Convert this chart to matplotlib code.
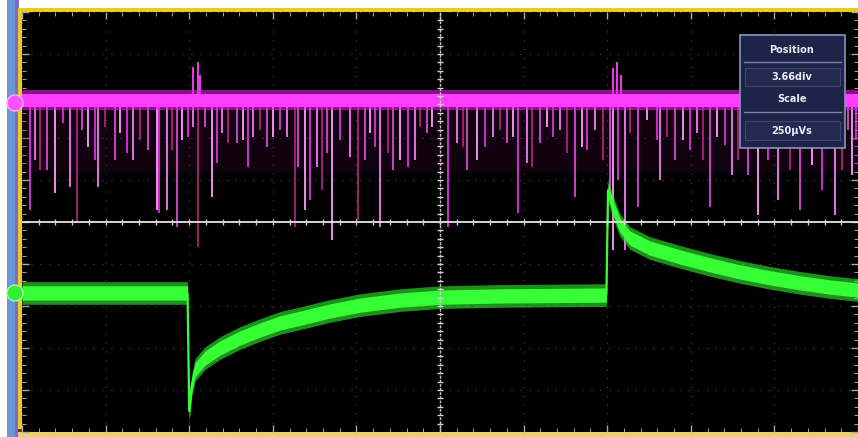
import matplotlib.pyplot as plt
from matplotlib.patches import Rectangle, Circle
from matplotlib.ticker import MultipleLocator
import numpy as np

# time in divisions (10 div across), level in divisions (0 = screen centre)
green_t = [0.00, 1.98, 2.00, 2.03, 2.07, 2.19, 2.37, 2.61, 2.85, 3.09, 3.33, 3.68,
           4.04, 4.52, 5.00, 5.72, 6.99, 7.01, 7.06, 7.15, 7.27, 7.51, 7.87, 8.23,
           8.59, 8.95, 9.31, 9.67, 10.00]
green_v = [-1.69, -1.69, -4.50, -3.90, -3.52, -3.24, -3.00, -2.76, -2.57, -2.40, -2.29, -2.12,
           -1.98, -1.86, -1.79, -1.76, -1.74, 0.76, 0.40, -0.07, -0.38, -0.62, -0.83, -1.02,
           -1.19, -1.33, -1.45, -1.55, -1.62]

magenta_level = 2.90

# downward glitches on the magenta channel: time, lowest level
spike_t = [0.10, 0.16, 0.22, 0.30, 0.39, 0.49, 0.57, 0.66, 0.72, 0.79, 0.87, 0.91,
           0.99, 1.11, 1.17, 1.26, 1.33, 1.41, 1.51, 1.61, 1.64, 1.73, 1.79, 1.85,
           1.91, 1.99, 2.05, 2.11, 2.19, 2.27, 2.33, 2.39, 2.46, 2.57, 2.64, 2.70,
           2.76, 2.85, 2.93, 3.00, 3.09, 3.17, 3.27, 3.30, 3.39, 3.44, 3.53, 3.59,
           3.65, 3.71, 3.80, 3.92, 4.02, 4.10, 4.16, 4.22, 4.28, 4.38, 4.44, 4.52,
           4.62, 4.70, 4.76, 4.84, 4.90, 5.10, 5.20, 5.28, 5.32, 5.44, 5.54, 5.63,
           5.72, 5.80, 5.87, 5.93, 6.04, 6.10, 6.20, 6.28, 6.35, 6.44, 6.52, 6.61,
           6.70, 6.76, 6.85, 6.95, 7.03, 7.07, 7.13, 7.21, 7.27, 7.37, 7.48, 7.60,
           7.63, 7.72, 7.81, 7.91, 7.99, 8.07, 8.15, 8.23, 8.31, 8.41, 8.49, 8.56,
           8.68, 8.80, 8.92, 9.04, 9.19, 9.31, 9.45, 9.57, 9.72, 9.81, 9.88, 9.93,
           9.98]
spike_low = [0.29, 1.48, 1.24, 1.24, 0.69, 2.36, 0.83, -0.02, 2.19, 1.79, 1.48, 0.83,
             2.26, 1.48, 2.12, 1.64, 1.48, 1.95, 1.71, 0.29, 0.21, 0.29, 1.71, -0.12,
             1.95, 2.02, 2.26, -0.60, 2.26, 0.60, 1.40, 2.12, 1.88, 1.88, 1.95, 1.31,
             2.02, 2.19, 1.79, 2.02, 2.19, 2.02, -0.12, 1.31, 0.29, 0.52, 1.31, 0.76,
             1.64, -0.43, 1.95, 1.55, 0.05, 1.48, 2.12, 1.79, -0.12, 1.64, 1.24, 1.48,
             1.31, 1.48, 2.26, 2.12, 2.26, -0.12, 1.88, 1.79, 1.24, 1.48, 1.79, 2.02,
             2.19, 1.88, 2.02, 0.21, 1.40, 1.31, 1.88, 2.26, 2.02, 2.19, 1.64, 0.60,
             1.79, 1.71, 2.19, 1.48, 0.76, -0.67, 1.00, -0.67, 2.12, 0.36, 2.43, 1.95,
             1.00, 2.02, 1.48, 1.95, 1.71, 2.12, 1.48, 0.36, 2.02, 1.83, 1.12, 1.48,
             1.12, 0.17, 1.48, 0.52, 1.24, 0.29, 1.36, 0.76, 0.17, 1.24, 2.19, 1.12,
             1.95]

# upward bursts on the magenta channel
burst_t = [2.05, 2.10, 2.13, 7.07, 7.12, 7.16]
burst_high = [3.69, 3.81, 3.50, 3.67, 3.81, 3.50]

panel_lines = ['Position', '3.66div', 'Scale', '250\u00b5Vs']

W, H = 858, 437
fig = plt.figure(figsize=(W / 100, H / 100), dpi=100)
fig.patch.set_facecolor('white')

# frame around the screen, in pixel units
bg = fig.add_axes([0, 0, 1, 1], zorder=0)
bg.set_xlim(0, W)
bg.set_ylim(H, 0)
bg.axis('off')
bg.add_patch(Rectangle((7, 0), 9, H, color='#6a95d6', lw=0))
bg.add_patch(Rectangle((15, 0), 4, H, color='#8266cc', lw=0))
bg.add_patch(Rectangle((18, 8), 4, H, color='#e8cc20', lw=0))
bg.add_patch(Rectangle((18, 8), W, 4, color='#e8cc20', lw=0))
bg.add_patch(Rectangle((22, 12), W, 3, color='#2a1850', lw=0))
bg.add_patch(Rectangle((18, 429), W, 3, color='#5a3a10', lw=0))
bg.add_patch(Rectangle((18, 432), W, 5, color='#ead070', lw=0))

# scope screen
ax = fig.add_axes([22 / W, 5 / H, 836 / W, 420 / H], zorder=1)
ax.set_facecolor('black')
ax.set_xlim(0, 10)
ax.set_ylim(-5, 5)
for s in ax.spines.values():
    s.set_visible(False)
ax.xaxis.set_major_locator(MultipleLocator(1))
ax.yaxis.set_major_locator(MultipleLocator(1))
ax.xaxis.set_minor_locator(MultipleLocator(0.2))
ax.yaxis.set_minor_locator(MultipleLocator(0.2))
ax.tick_params(which='both', direction='in', colors='#a8a8a8',
               top=True, right=True, labelbottom=False, labelleft=False)
ax.tick_params(which='major', length=5, width=1)
ax.tick_params(which='minor', length=3, width=0.7)
ax.grid(True, which='major', color='#505050', lw=0.8, ls=(0, (1, 7)))

# centre cross
ax.axhline(0, color='#e6e6e6', lw=1.3, zorder=5)
ax.axvline(5, color='#c8c8c8', lw=1.0, ls=(0, (2, 1)), zorder=5)
tk = np.arange(0.2, 10, 0.2)
ax.plot(tk, np.zeros_like(tk), ls='none', marker='|', ms=4, color='#d0d0d0', zorder=5)
tk = np.arange(-4.8, 5, 0.2)
ax.plot(np.full_like(tk, 5), tk, ls='none', marker='_', ms=5, color='#d0d0d0', zorder=5)

# magenta channel
ax.fill_between([0, 10], 1.2, magenta_level, color='#3a0838', alpha=0.3, lw=0, zorder=2)
spike_cols = ['#e030e0', '#f27af2', '#b0207a', '#d848d8', '#ff9cff']
ax.vlines(spike_t, spike_low, magenta_level, lw=1.3, zorder=3,
          colors=[spike_cols[i % len(spike_cols)] for i in range(len(spike_t))])
ax.vlines(burst_t, magenta_level, burst_high, color='#e838e8', lw=1.5, zorder=3)
ax.fill_between([0, 10], magenta_level - 0.24, magenta_level + 0.24,
                color='#e020e0', alpha=0.6, lw=0, zorder=3)
ax.fill_between([0, 10], magenta_level - 0.15, magenta_level + 0.15,
                color='#ff3cff', lw=0, zorder=3)

# green channel
gt = np.array(green_t)
gv = np.array(green_v)
ax.fill_between(gt, gv - 0.27, gv + 0.27, color='#30f030', alpha=0.6, lw=0, zorder=4)
ax.fill_between(gt, gv - 0.17, gv + 0.17, color='#36ff36', lw=0, zorder=4)
ax.plot(gt, gv, color='#36ff36', lw=1.6, zorder=4)

# overlay: channel markers and position/scale readout
ov = fig.add_axes([0, 0, 1, 1], zorder=2)
ov.set_xlim(0, W)
ov.set_ylim(H, 0)
ov.axis('off')
ov.add_patch(Circle((15, 103), 8, color='#ff50ff', ec='#ffb0ff', lw=1))
ov.add_patch(Circle((15, 293), 8, color='#30f030', ec='#a0ffa0', lw=1))

ov.add_patch(Rectangle((740, 35), 105, 113, fc='#1d2447', ec='#8b94bb', lw=1.2))
ov.add_patch(Rectangle((745, 68), 95, 18, fc='#232a50', ec='#3e4672', lw=0.8))
ov.add_patch(Rectangle((745, 121), 95, 19, fc='#232a50', ec='#3e4672', lw=0.8))
ov.plot([744, 841], [62, 62], color='#7880a8', lw=1)
ov.plot([744, 841], [112, 112], color='#7880a8', lw=1)
for label, yy in zip(panel_lines, [50, 77, 99, 131]):
    ov.text(792, yy, label, color='#ececf4', fontsize=7, fontweight='bold',
            ha='center', va='center')

fig.savefig('out.png', dpi=100, facecolor=fig.get_facecolor())
